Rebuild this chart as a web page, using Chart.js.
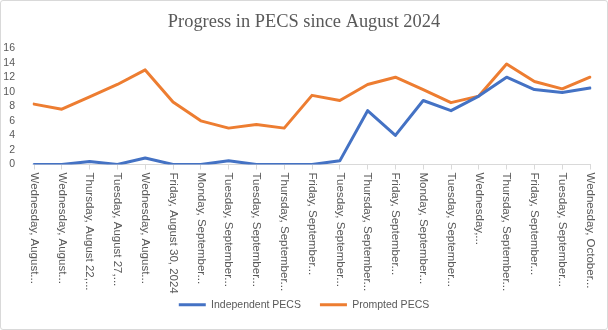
<!DOCTYPE html>
<html>
<head>
<meta charset="utf-8">
<script src="https://cdn.jsdelivr.net/npm/chart.js@4"></script>
<style>
  body { margin: 0; background: #fff; }
  #wrap { width: 606px; height: 328px; border: 1px solid #d9d9d9; border-radius: 3px; }
  canvas { display: block; }
</style>
</head>
<body>
<div id="wrap"><canvas id="pecsChart" width="606" height="328"></canvas></div>
<script>
// session dates as they show on the axis (Excel truncates the long ones)
var sessions = [
  'Wednesday, August...', 'Wednesday, August...', 'Thursday, August 22,...',
  'Tuesday, August 27,...', 'Wednesday, August...', 'Friday, August 30, 2024',
  'Monday, September...', 'Tuesday, September...', 'Tuesday, September...',
  'Thursday, September...', 'Friday, September...', 'Tuesday, September...',
  'Thursday, September...', 'Friday, September...', 'Monday, September...',
  'Tuesday, September...', 'Wednesday,...', 'Thursday, September...',
  'Friday, September...', 'Tuesday, September...', 'Wednesday, October...'
];
var independentPECS = [0, 0, 0.4, 0, 0.9, 0, 0, 0.5, 0, 0, 0, 0.5, 7.4, 4, 8.8, 7.4, 9.4, 12, 10.3, 9.9, 10.5];
var promptedPECS = [8.3, 7.6, 9.3, 11, 13, 8.6, 6, 5, 5.5, 5, 9.5, 8.8, 11, 12, 10.3, 8.5, 9.4, 13.8, 11.4, 10.4, 12];
var yTicks = [0, 2, 4, 6, 8, 10, 12, 14, 16];

var textColor = '#595959';
var fontFam = '"Liberation Sans", Arial, sans-serif';

// draw the x labels rotated clockwise like Excel does
const sideLabels = {
  id: 'sideLabels',
  afterDraw(chart) {
    const xs = chart.scales.x;
    const c = chart.ctx;
    c.save();
    c.fillStyle = textColor;
    c.font = '11.5px ' + fontFam;
    c.textAlign = 'left';
    c.textBaseline = 'middle';
    sessions.forEach((lbl, i) => {
      const px = xs.getPixelForValue(i);
      c.save();
      c.translate(px, xs.top + 8);
      c.rotate(Math.PI / 2);
      c.fillText(lbl, 0, 0);
      c.restore();
    });
    c.restore();
  }
};

const ctx = document.getElementById('pecsChart').getContext('2d');
const pecsChart = new Chart(ctx, {
  type: 'line',
  data: {
    labels: sessions,
    datasets: [{
      label: 'Independent PECS',
      data: independentPECS,
      borderColor: '#4472C4',
      backgroundColor: '#4472C4',
      borderWidth: 3,
      pointRadius: 0,
      tension: 0,
      borderJoinStyle: 'round',
      borderCapStyle: 'round'
    }, {
      label: 'Prompted PECS',
      data: promptedPECS,
      borderColor: '#ED7D31',
      backgroundColor: '#ED7D31',
      borderWidth: 3,
      pointRadius: 0,
      tension: 0,
      borderJoinStyle: 'round',
      borderCapStyle: 'round'
    }]
  },
  plugins: [sideLabels],
  options: {
    responsive: false,
    animation: false,
    layout: { padding: { left: 0, right: 0, top: 0, bottom: 9 } },
    plugins: {
      title: {
        display: true,
        text: 'Progress in PECS since August 2024',
        color: textColor,
        font: { family: '"Liberation Serif", "Times New Roman", serif', size: 18.4, weight: 'normal' },
        padding: { top: 10, bottom: 15 }
      },
      legend: {
        position: 'bottom',
        labels: {
          color: textColor,
          font: { family: fontFam, size: 10.5 },
          usePointStyle: true,
          pointStyle: 'line',
          pointStyleWidth: 27,
          padding: 19
        }
      },
      tooltip: { enabled: false }
    },
    scales: {
      x: {
        offset: false,
        ticks: { display: false },
        grid: { drawOnChartArea: false, drawTicks: true, tickLength: 5, color: '#d9d9d9' },
        border: { display: true, color: '#d9d9d9' },
        afterFit: (s) => { s.height = 116; }
      },
      y: {
        min: 0,
        max: 16,
        afterBuildTicks: (s) => { s.ticks = yTicks.map(v => ({ value: v })); },
        ticks: { color: textColor, font: { family: fontFam, size: 10.5 }, padding: 11, autoSkip: false },
        grid: { display: false },
        border: { display: false },
        afterFit: (s) => { s.width = 33; }
      },
      // empty right-hand spacer so the legend stays centred on the canvas
      yRight: {
        position: 'right',
        display: true,
        min: 0,
        max: 16,
        ticks: { display: false },
        grid: { display: false },
        border: { display: false },
        afterFit: (s) => { s.width = 17; }
      }
    }
  }
});
</script>
</body>
</html>
